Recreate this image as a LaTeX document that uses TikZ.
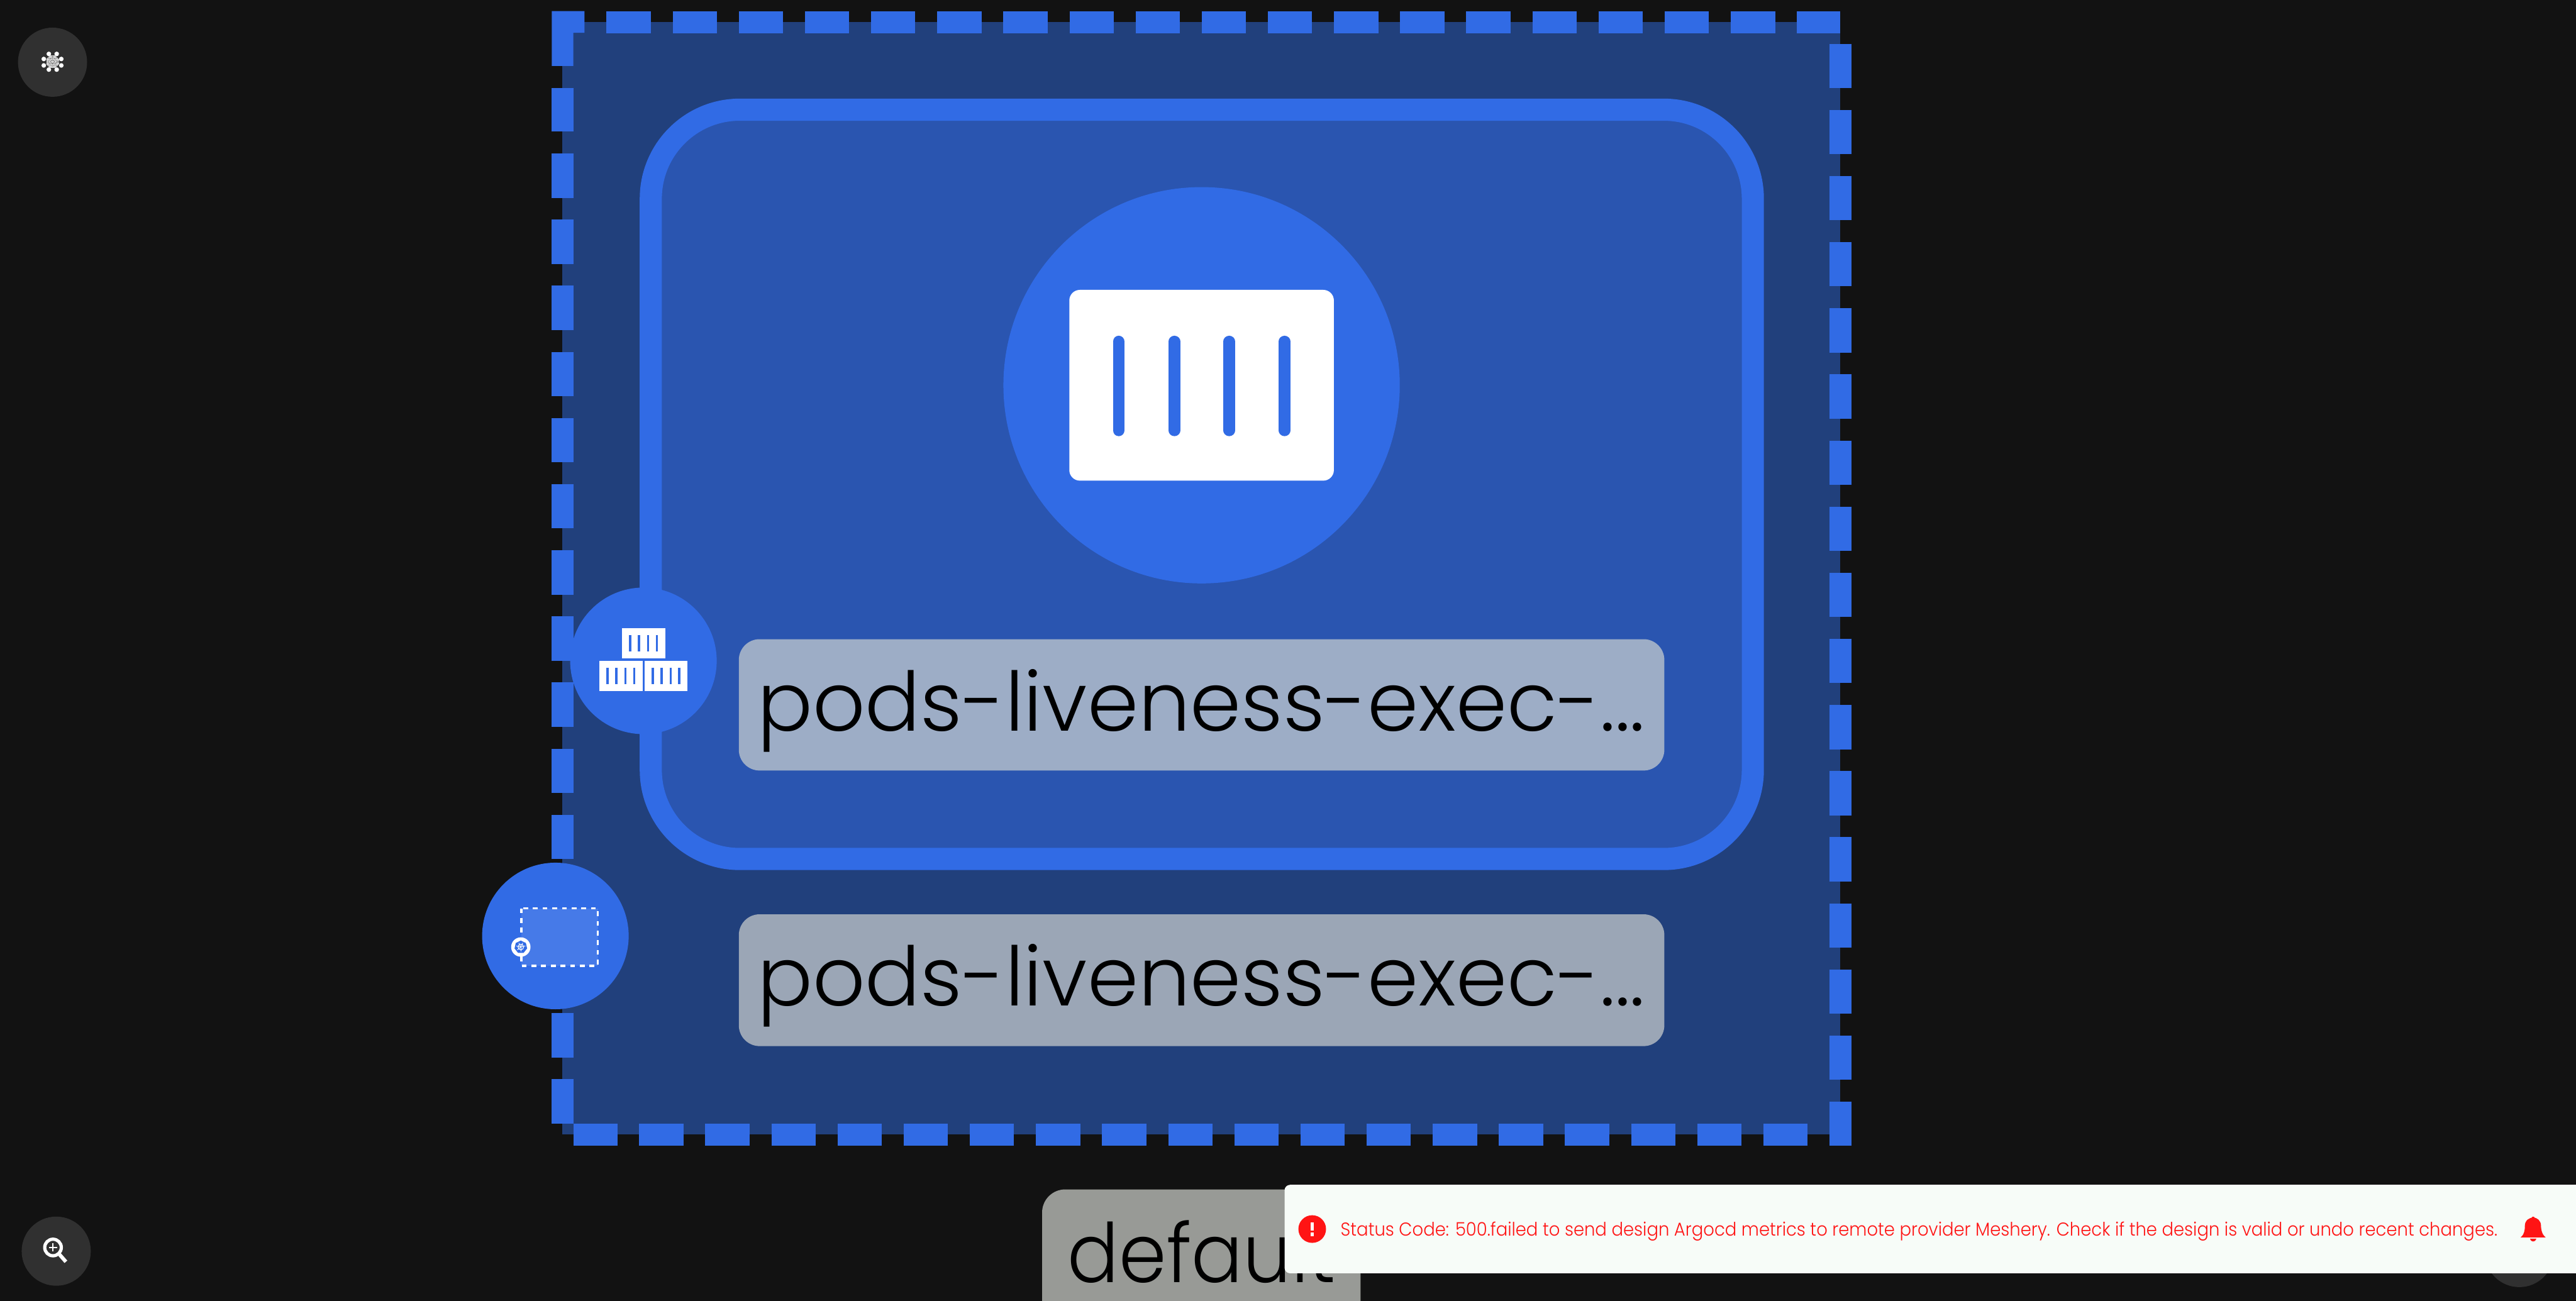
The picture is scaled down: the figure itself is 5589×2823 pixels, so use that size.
\documentclass[tikz,border=0pt]{standalone}
\usepackage{fontspec}
\setmainfont{Poppins Light}
\newfontfamily\defaultfont[FakeStretch=0.93]{Poppins Light}
\newfontfamily\toastfont[FakeStretch=0.927]{Poppins Light}
\definecolor{pagebg}{HTML}{121212}
\definecolor{nsfill}{HTML}{21407C}
\definecolor{podfill}{HTML}{2A55B0}
\definecolor{kubeblue}{HTML}{316BE5}
\definecolor{btngray}{HTML}{303030}
\definecolor{alertred}{HTML}{FF1414}
\definecolor{podtag}{HTML}{9DADC6}
\definecolor{nstag}{HTML}{9BA6B6}
\definecolor{defaulttag}{HTML}{989A96}
\definecolor{toastbg}{HTML}{F7FCF8}
\tikzset{
  nsdash/.style={kubeblue, line width=0.48cm, dash pattern=on 0.96cm off 0.474cm},
  taglabel/.style={inner sep=0pt, text=black, font=\fontsize{50.6}{50.6}\selectfont},
  tagbox/.style={rounded corners=0.45cm},
}
\begin{document}
\begin{tikzpicture}[x=0.01cm,y=-0.01cm]
  \useasboundingbox (0,0) rectangle (5589,2823);
  \fill[pagebg] (0,0) rectangle (5589,2823);

  % Namespace box
  \fill[nsfill] (1220,48) rectangle (3993,2462);
  \draw[nsdash] (1316,48) -- (3993,48);
  \draw[nsdash] (3993,95) -- (3993,2486);
  \draw[nsdash] (3922,2462) -- (1245,2462);
  \draw[nsdash] (1220,2438) -- (1220,191);
  \fill[kubeblue] (1197,24) -- (1268,24) -- (1268,71) -- (1244,71) -- (1244,143) -- (1197,143) -- cycle;

  % Pod box
  \draw[kubeblue, fill=podfill, line width=0.48cm, rounded corners=1.93cm] (1412,238) rectangle (3803,1864);

  % Container
  \fill[kubeblue] (2607,836) circle (430);
  \fill[white, rounded corners=0.23cm] (2320,629) rectangle (2894,1043);
  \foreach \x in {2427,2548,2667,2787}
    \draw[kubeblue, line width=0.25cm, line cap=round] (\x,741) -- (\x,934);

  % Labels
  \fill[podtag, tagbox] (1603,1387) rectangle (3611,1672);
  \node[taglabel, anchor=base] (podname) at (2606,1586) {pods-liveness-exec-...};
  \fill[nstag, tagbox] (1603,1984) rectangle (3611,2270);
  \node[taglabel, anchor=base] (nsname) at (2606,2182) {pods-liveness-exec-...};

  % Badges
  \fill[kubeblue] (1396,1434) circle (159);
  \fill[kubeblue] (1205,2031) circle (159);
  \foreach \x/\y in {1349/1363,1300/1434,1398/1434}{
    \fill[white] (\x,\y) rectangle ++(94,66);
    \foreach \d in {18,37,57,76}
      \draw[kubeblue, line width=0.05cm] (\x+\d,\y+15) -- (\x+\d,\y+51);
  }
  \fill[white!10!kubeblue] (1131,1971) rectangle (1297,2096);
  \draw[white, line width=0.05cm, dash pattern=on 0.105cm off 0.105cm] (1131,1971) rectangle (1297,2096);
  \fill[white] (1130,2055) circle (21);
  \fill[kubeblue, shift={(1130,2055)}] (270:14) -- (321.4:14) -- (12.9:14) -- (64.3:14) -- (115.7:14) -- (167.1:14) -- (218.6:14) -- cycle;
  \draw[white, line width=0.015cm] (1130,2055) circle (6);
  \foreach \a in {0,51.4,...,308}
    \draw[white, line width=0.012cm, shift={(1130,2055)}] (0,0) -- (\a+90:10);

  % Buttons
  \fill[btngray] (114,135) circle (75);
  \fill[btngray] (122,2715) circle (75);
  \fill[btngray] (5466,2718) circle (75);
  \foreach \px/\py in {106/117,123/117,95/128,133/128,95/142,133/142,106/151,123/151}
    \fill[white] (\px,\py) circle (5);
  \foreach \a in {22.5,67.5,...,337.5}
    \foreach \b in {45,90,135,180}
      \draw[white!80!btngray, line width=0.012cm, shift={(114,134)}] (\a:14) -- (\a+\b:14);
  \draw[white, line width=0.07cm] (115,2707) circle (18);
  \draw[white, line width=0.025cm] (106,2707) -- (124,2707) (115,2698) -- (115,2716);
  \draw[white, line width=0.08cm] (129,2722) -- (143,2738);

  % Default tag
  \fill[defaulttag, rounded corners=0.5cm] (2261,2900) -- (2261,2581) -- (2952,2581) -- (2952,2900) -- cycle;
  \node[taglabel, anchor=base west, font=\defaultfont\fontsize{50.6}{50.6}\selectfont] (nsdefault) at (2316,2783) {default};

  % Toast
  \fill[toastbg, rounded corners=0.12cm] (2787,2571) rectangle (5650,2763);
  \fill[alertred] (2847,2667) circle (30);
  \fill[white] (2843,2652) rectangle (2850,2670);
  \fill[white] (2843,2675) rectangle (2850,2682);
  \node[anchor=base west, inner sep=0pt, text=alertred, font=\toastfont\fontsize{11.5}{11.5}\selectfont] (status) at (2908,2682) {Status Code: 500.failed to send design Argocd metrics to remote provider Meshery. Check if the design is valid or undo recent changes.};
  \fill[alertred] (5469,2685) .. controls (5478,2678) and (5478,2665) .. (5478,2660) .. controls (5478,2648) and (5488,2642) .. (5496,2642) .. controls (5504,2642) and (5513,2648) .. (5513,2660) .. controls (5513,2665) and (5514,2678) .. (5523,2685) -- cycle;
  \fill[alertred] (5496,2644) circle (4);
  \fill[alertred] (5489,2688) .. controls (5491,2696) and (5501,2696) .. (5503,2688) -- cycle;
\end{tikzpicture}
\end{document}
